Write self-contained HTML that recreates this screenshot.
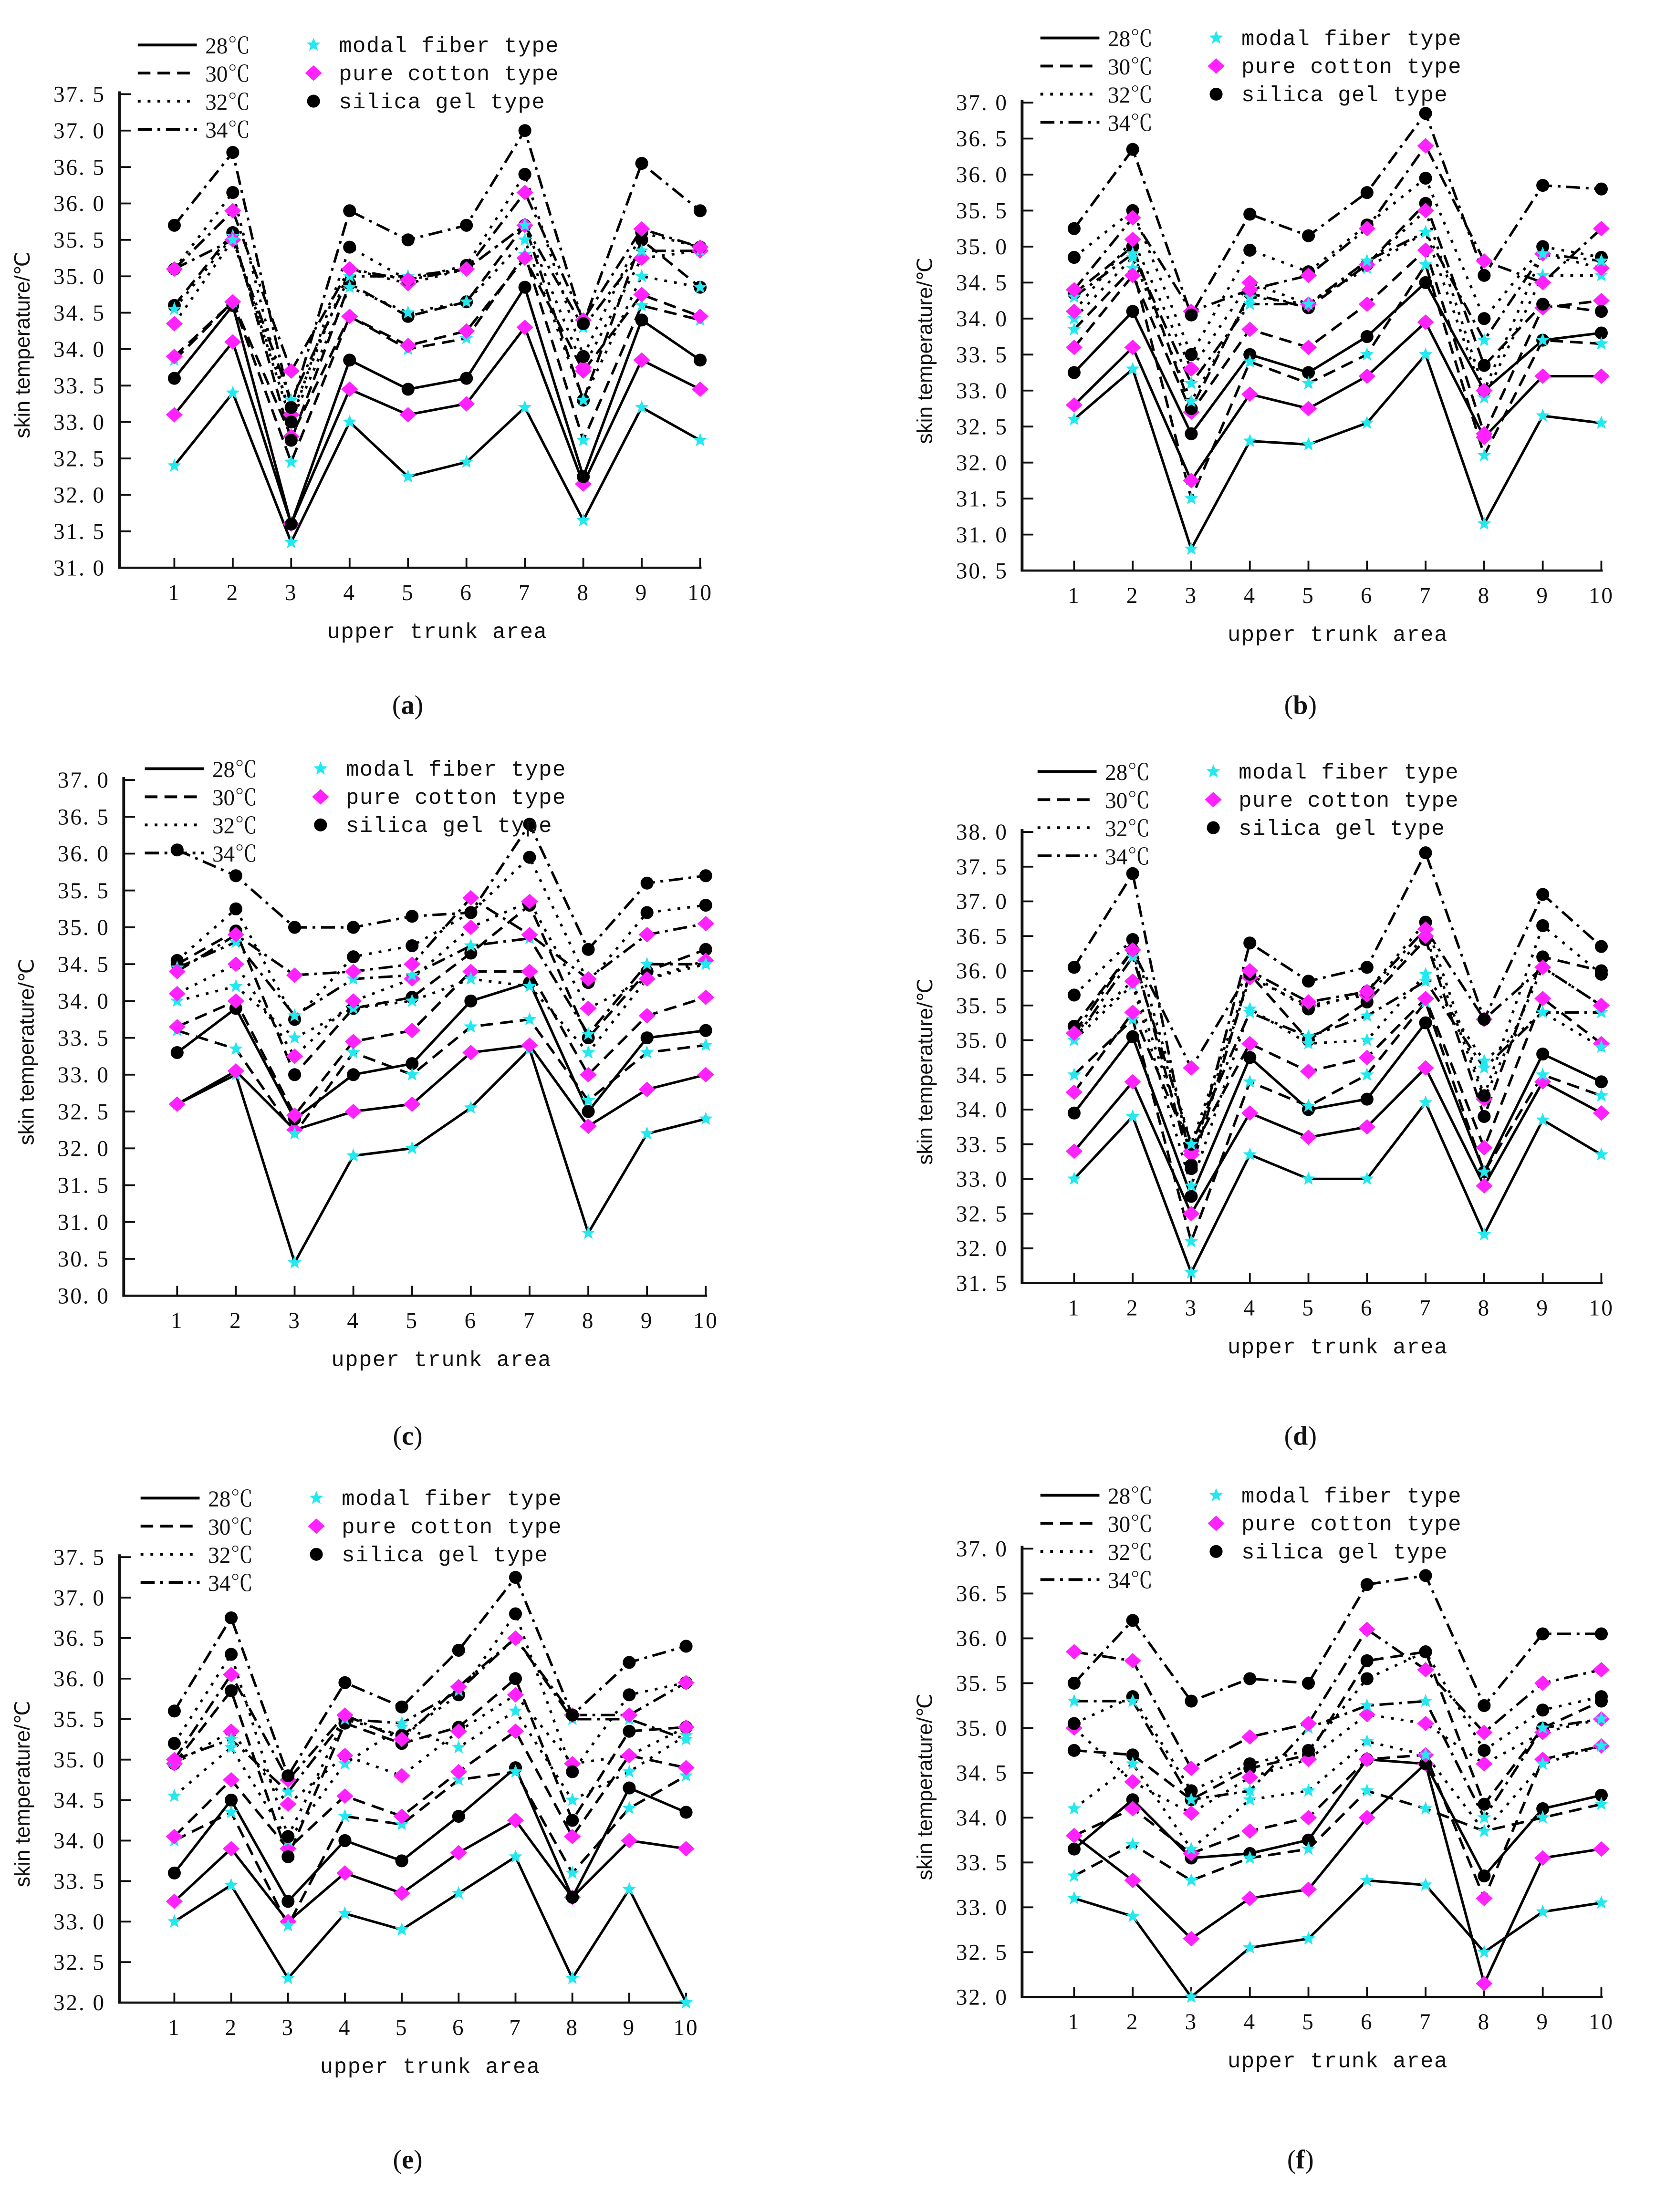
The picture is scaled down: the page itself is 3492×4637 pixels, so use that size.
<!DOCTYPE html>
<html><head><meta charset="utf-8"><style>
html,body{margin:0;padding:0;background:#fff;}
svg{display:block;}
text{font-family:"Liberation Serif","Noto Serif CJK SC",serif;fill:#111;}
.tk{font-size:16px;letter-spacing:1px;}
.lg{font-family:"Liberation Mono","Noto Sans CJK SC",monospace;font-size:15.5px;letter-spacing:0.5px;}
</style></head><body>
<svg id="fig" xmlns="http://www.w3.org/2000/svg" width="3492" height="4637" viewBox="0 0 1185 1574" preserveAspectRatio="none"></svg>
<script>
const temps = ["28℃","30℃","32℃","34℃"];
const types = ["modal fiber type","pure cotton type","silica gel type"];
const categories = [1,2,3,4,5,6,7,8,9,10];
// series order: 28 modal, 28 cotton, 28 silica, 30 ..., 32 ..., 34 ...
const panelA = [
[32.4,33.4,31.35,33.0,32.25,32.45,33.2,31.65,33.2,32.75],
[33.1,34.1,31.6,33.45,33.1,33.25,34.3,32.15,33.85,33.45],
[33.6,34.6,31.6,33.85,33.45,33.6,34.85,32.25,34.4,33.85],
[33.85,34.65,32.45,34.45,34.0,34.15,35.3,32.75,34.6,34.4],
[33.9,34.65,32.8,34.45,34.05,34.25,35.25,33.7,34.75,34.45],
[34.6,35.6,32.75,34.9,34.45,34.65,35.7,33.3,35.5,34.85],
[34.55,35.55,33.0,34.85,34.5,34.65,35.5,33.3,35.0,34.85],
[34.35,35.5,33.1,35.1,34.9,35.1,35.7,33.75,35.25,35.35],
[35.1,36.15,33.0,35.4,34.95,35.15,36.4,33.9,35.6,35.4],
[35.1,35.5,33.3,35.0,35.0,35.1,35.7,34.3,35.35,35.35],
[35.1,35.9,33.7,35.1,34.95,35.1,36.15,34.4,35.65,35.4],
[35.7,36.7,33.2,35.9,35.5,35.7,37.0,34.35,36.55,35.9]];
const panelB = [
[32.6,33.3,30.8,32.3,32.25,32.55,33.5,31.15,32.65,32.55],
[32.8,33.6,31.75,32.95,32.75,33.2,33.95,32.35,33.2,33.2],
[33.25,34.1,32.4,33.5,33.25,33.75,34.5,33.0,33.7,33.8],
[33.85,34.7,31.5,33.4,33.1,33.5,34.75,32.1,33.7,33.65],
[33.6,34.6,32.7,33.85,33.6,34.2,34.95,32.4,34.15,34.25],
[34.35,35.0,32.75,34.35,34.15,34.75,35.6,33.35,34.2,34.1],
[34.0,34.85,32.85,34.3,34.2,34.7,35.2,32.9,34.6,34.6],
[34.1,35.1,33.3,34.5,34.2,34.75,35.5,33.0,34.9,34.7],
[34.85,35.5,33.5,34.95,34.65,35.3,35.95,34.0,35.0,34.85],
[34.3,34.9,33.1,34.2,34.2,34.8,35.2,33.7,34.9,34.8],
[34.4,35.4,34.1,34.4,34.6,35.25,36.4,34.8,34.5,35.25],
[35.25,36.35,34.05,35.45,35.15,35.75,36.85,34.6,35.85,35.8]];
const panelC = [
[32.6,33.0,30.45,31.9,32.0,32.55,33.35,30.85,32.2,32.4],
[32.6,33.05,32.25,32.5,32.6,33.3,33.4,32.3,32.8,33.0],
[33.3,33.9,32.4,33.0,33.15,34.0,34.25,32.5,33.5,33.6],
[33.6,33.35,32.2,33.3,33.0,33.65,33.75,32.65,33.3,33.4],
[33.65,34.0,32.45,33.45,33.6,34.4,34.4,33.0,33.8,34.05],
[34.5,34.95,33.0,33.9,34.05,34.65,35.3,33.5,34.4,34.7],
[34.0,34.2,33.5,33.9,34.0,34.3,34.2,33.3,34.3,34.5],
[34.1,34.5,33.25,34.0,34.3,35.0,35.35,33.9,34.3,34.55],
[34.55,35.25,33.75,34.6,34.75,35.2,35.95,34.25,35.2,35.3],
[34.45,34.8,33.8,34.3,34.35,34.75,34.85,33.55,34.5,34.5],
[34.4,34.9,34.35,34.4,34.5,35.4,34.9,34.3,34.9,35.05],
[36.05,35.7,35.0,35.0,35.15,35.2,36.4,34.7,35.6,35.7]];
const panelD = [
[33.0,33.9,31.65,33.35,33.0,33.0,34.1,32.2,33.85,33.35],
[33.4,34.4,32.5,33.95,33.6,33.75,34.6,32.9,34.4,33.95],
[33.95,35.05,32.75,34.75,34.0,34.15,35.25,33.1,34.8,34.4],
[34.5,35.3,32.1,34.4,34.05,34.5,35.55,33.1,34.5,34.2],
[34.25,35.4,33.4,34.95,34.55,34.75,35.6,33.45,35.6,34.95],
[35.2,36.3,33.15,35.95,35.0,35.55,36.45,33.9,36.2,36.0],
[35.0,35.8,32.9,35.45,34.95,35.0,35.95,34.7,35.4,34.9],
[35.1,35.85,33.35,35.9,35.5,35.65,36.5,34.15,36.05,35.5],
[35.65,36.45,33.5,35.95,35.45,35.7,36.7,34.2,36.65,35.95],
[35.0,36.2,33.5,35.4,35.05,35.35,35.85,34.6,35.4,35.4],
[35.1,36.3,34.6,36.0,35.55,35.7,36.6,35.3,36.05,35.5],
[36.05,37.4,33.2,36.4,35.85,36.05,37.7,35.3,37.1,36.35]];
const panelE = [
[33.0,33.45,32.3,33.1,32.9,33.35,33.8,32.3,33.4,32.0],
[33.25,33.9,33.0,33.6,33.35,33.85,34.25,33.3,34.0,33.9],
[33.6,34.5,33.25,34.0,33.75,34.3,34.9,33.3,34.65,34.35],
[34.0,34.35,32.95,34.3,34.2,34.75,34.85,33.6,34.4,34.8],
[34.05,34.75,33.9,34.55,34.3,34.85,35.35,34.05,35.05,34.9],
[34.95,35.85,33.8,35.45,35.2,35.4,36.0,34.25,35.35,35.4],
[34.55,35.15,34.0,34.95,35.4,35.15,35.6,34.5,34.85,35.3],
[34.95,35.35,34.45,35.05,34.8,35.35,35.8,34.95,35.05,35.4],
[35.2,36.3,34.05,35.5,35.3,35.8,36.8,34.85,35.8,35.95],
[35.0,35.25,34.6,35.5,35.45,35.85,36.5,35.5,35.5,35.25],
[35.0,36.05,34.75,35.55,35.25,35.9,36.5,35.55,35.55,35.95],
[35.6,36.75,34.8,35.95,35.65,36.35,37.25,35.55,36.2,36.4]];
const panelF = [
[33.1,32.9,32.0,32.55,32.65,33.3,33.25,32.5,32.95,33.05],
[33.8,33.3,32.65,33.1,33.2,34.0,34.6,32.15,33.55,33.65],
[33.65,34.2,33.55,33.6,33.75,34.65,34.6,33.35,34.1,34.25],
[33.35,33.7,33.3,33.55,33.65,34.3,34.1,33.85,34.0,34.15],
[33.8,34.1,33.6,33.85,34.0,34.65,34.7,33.1,34.65,34.8],
[34.75,34.7,34.2,34.55,34.7,35.75,35.85,34.15,35.0,35.3],
[34.1,34.6,33.65,34.2,34.3,34.85,34.7,33.85,34.6,34.8],
[35.0,34.4,34.05,34.45,34.65,35.15,35.05,34.6,34.95,35.1],
[35.05,35.35,34.3,34.6,34.75,35.55,35.85,34.75,35.2,35.35],
[35.3,35.3,34.2,34.3,35.0,35.25,35.3,34.0,35.0,35.1],
[35.85,35.75,34.55,34.9,35.05,36.1,35.65,34.95,35.5,35.65],
[35.5,36.2,35.3,35.55,35.5,36.6,36.7,35.25,36.05,36.05]];
const yMinA=[31.0,30.5,30.0,31.5,32.0,32.0];
const yMaxA=[37.5,37.0,37.0,38.0,37.5,37.0];
const captions=["a","b","c","d","e","f"];

const NS="http://www.w3.org/2000/svg";
const svg=document.getElementById('fig');
function mk(tag,attrs,parent){const e=document.createElementNS(NS,tag);for(const k in attrs)e.setAttribute(k,attrs[k]);(parent||svg).appendChild(e);return e;}
const layout=[
 {x0:85,yb:404,yt:67,x1:124,x10:498,lx:98,ly:32,cx:290,cy:500},
 {x0:727,yb:406,yt:73,x1:764,x10:1139,lx:740,ly:27,cx:925,cy:500},
 {x0:88,yb:922,yt:555,x1:126,x10:502,lx:103,ly:547,cx:290,cy:1020},
 {x0:727,yb:913,yt:592,x1:764,x10:1139,lx:738,ly:549,cx:925,cy:1020},
 {x0:85,yb:1425,yt:1108,x1:124,x10:488,lx:100,ly:1066,cx:290,cy:1535},
 {x0:727,yb:1421,yt:1102,x1:764,x10:1139,lx:740,ly:1064,cx:925,cy:1535}];
const panels=[panelA,panelB,panelC,panelD,panelE,panelF];
const dashes=["none","9,5","2,5","10,4,2,4"];
const colors=["#22e8f0","#ff22ff","#000"];
function marker(g,t,x,y){
  let m;
  if(t===0){const pts=[];for(let i=0;i<10;i++){const r=i%2?2.2:5.2,a=-Math.PI/2+i*Math.PI/5;pts.push((x+r*Math.cos(a)).toFixed(1)+","+(y+r*Math.sin(a)).toFixed(1));}
    m=mk('polygon',{points:pts.join(' '),fill:colors[0]},g);}
  else if(t===1){m=mk('polygon',{points:`${x},${y-5.5} ${x+6},${y} ${x},${y+5.5} ${x-6},${y}`,fill:colors[1]},g);}
  else {m=mk('circle',{cx:x,cy:y,r:4.6,fill:"#000"},g);}
  return m;
}
panels.forEach((data,p)=>{
  const L=layout[p],ymin=yMinA[p],ymax=yMaxA[p];
  const g=mk('g',{});
  
  
  const X=i=>L.x1+(L.x10-L.x1)*i/(categories.length-1);
  const Y=v=>L.yb-(v-ymin)/(ymax-ymin)*(L.yb-L.yt);
  // axes
  const ya=mk('line',{x1:L.x0,y1:L.yt-2,x2:L.x0,y2:L.yb,stroke:"#111","stroke-width":2},g);
  
  
  const xa=mk('line',{x1:L.x0-1,y1:L.yb,x2:L.x10+1,y2:L.yb,stroke:"#111","stroke-width":1.6},g);
  
  
  const nT=Math.round((ymax-ymin)/0.5);
  for(let k=0;k<=nT;k++){
    const v=ymin+k*0.5,y=Y(v);
    mk('line',{x1:L.x0,y1:y,x2:L.x0+8,y2:y,stroke:"#111","stroke-width":1.3},g);
    const t=mk('text',{x:L.x0-10,y:y+5.5,"text-anchor":"end",class:"tk"},g);
    t.textContent=v.toFixed(1).replace('.','. ');
    
    
  }
  categories.forEach((c,i)=>{
    mk('line',{x1:X(i),y1:L.yb,x2:X(i),y2:L.yb-7,stroke:"#111","stroke-width":1.3},g);
    const t=mk('text',{x:X(i),y:L.yb+23,"text-anchor":"middle",class:"tk"},g);
    t.textContent=c;
    
    
  });
  const xt=mk('text',{x:(L.x1+L.x10)/2,y:L.yb+50,"text-anchor":"middle",class:"lg","font-size":"16"},g);
  xt.textContent="upper trunk area";
  
  
  const ycy=(L.yb+L.yt)/2+10;
  const yt=mk('text',{x:L.x0-64,y:ycy,"text-anchor":"middle",transform:`rotate(-90 ${L.x0-64} ${ycy})`,"font-size":"15",style:"font-family:'Liberation Sans',sans-serif"},g);
  yt.textContent="skin temperature/℃";
  
  
  // series
  data.forEach((vals,s)=>{
    const temp=Math.floor(s/3),type=s%3;
    const d=vals.map((v,i)=>(i?"L":"M")+X(i).toFixed(1)+","+Y(v).toFixed(1)).join(" ");
    const pa=mk('path',{d:d,fill:"none",stroke:"#000","stroke-width":1.8,"stroke-dasharray":dashes[temp]},g);
    
    
  });
  data.forEach((vals,s)=>{
    const type=s%3;
    vals.forEach((v,i)=>{
      const m=marker(g,type,X(i),Y(v));
      
      
    });
  });
  // legend
  const lg=mk('g',{},g);
  
  
  temps.forEach((tt,k)=>{
    const y=L.ly+k*20;
    mk('line',{x1:L.lx,y1:y,x2:L.lx+42,y2:y,stroke:"#000","stroke-width":2,"stroke-dasharray":dashes[k]},lg);
    const t=mk('text',{x:L.lx+48,y:y+6,"font-size":"16"},lg);
    t.textContent=tt;
    
    
  });
  types.forEach((tt,k)=>{
    const y=L.ly+k*20;
    marker(lg,k,L.lx+125,y);
    const t=mk('text',{x:L.lx+143,y:y+5,class:"lg"},lg);
    t.textContent=tt;
    
    
  });
  const cap=mk('text',{x:L.cx,y:L.cy+8,"text-anchor":"middle","font-size":"19"},g);
  cap.innerHTML='(<tspan font-weight="bold">'+captions[p]+'</tspan>)';
  
  
});
</script>
</body></html>
